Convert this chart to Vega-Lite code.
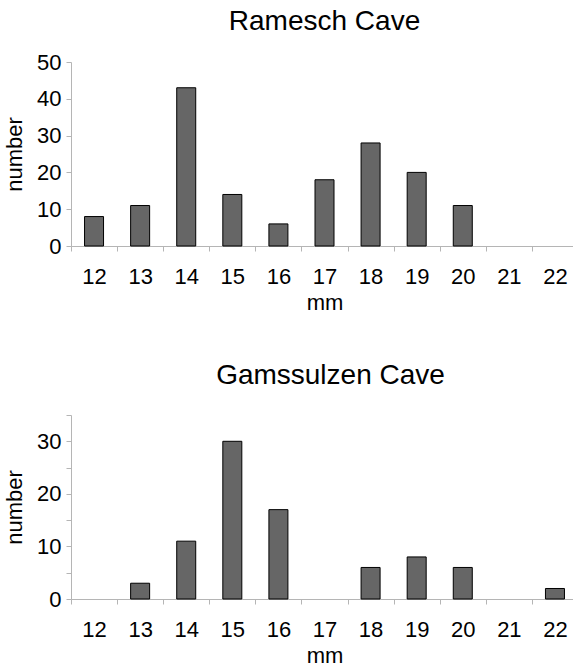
{
  "$schema": "https://vega.github.io/schema/vega-lite/v6.json",
  "padding": {"left": 3, "top": 8, "right": 0, "bottom": 0},
  "background": "white",
  "config": {
    "font": "Liberation Sans",
    "view": {"stroke": null},
    "title": {"fontSize": 28, "fontWeight": "normal", "color": "#000000", "anchor": "middle", "offset": 15, "font": "Liberation Sans"},
    "axis": {
      "labelFont": "Liberation Sans", "titleFont": "Liberation Sans",
      "labelFontSize": 22, "titleFontSize": 22, "titleFontWeight": "normal",
      "labelColor": "#000000", "titleColor": "#000000",
      "domainColor": "#b5b5b5", "tickColor": "#b5b5b5", "tickSize": 5, "grid": false
    }
  },
  "data": {"values": [
    {"cave": "Ramesch", "mm": 12, "n": 8},
    {"cave": "Ramesch", "mm": 13, "n": 11},
    {"cave": "Ramesch", "mm": 14, "n": 43},
    {"cave": "Ramesch", "mm": 15, "n": 14},
    {"cave": "Ramesch", "mm": 16, "n": 6},
    {"cave": "Ramesch", "mm": 17, "n": 18},
    {"cave": "Ramesch", "mm": 18, "n": 28},
    {"cave": "Ramesch", "mm": 19, "n": 20},
    {"cave": "Ramesch", "mm": 20, "n": 11},
    {"cave": "Ramesch", "mm": 21, "n": 0},
    {"cave": "Ramesch", "mm": 22, "n": 0},
    {"cave": "Gamssulzen", "mm": 12, "n": 0},
    {"cave": "Gamssulzen", "mm": 13, "n": 3},
    {"cave": "Gamssulzen", "mm": 14, "n": 11},
    {"cave": "Gamssulzen", "mm": 15, "n": 30},
    {"cave": "Gamssulzen", "mm": 16, "n": 17},
    {"cave": "Gamssulzen", "mm": 17, "n": 0},
    {"cave": "Gamssulzen", "mm": 18, "n": 6},
    {"cave": "Gamssulzen", "mm": 19, "n": 8},
    {"cave": "Gamssulzen", "mm": 20, "n": 6},
    {"cave": "Gamssulzen", "mm": 21, "n": 0},
    {"cave": "Gamssulzen", "mm": 22, "n": 2}
  ]},
  "spacing": 48,
  "vconcat": [
    {
      "title": {"text": "Ramesch Cave"},
      "width": 507, "height": 184,
      "transform": [{"filter": "datum.cave === 'Ramesch'"}],
      "mark": {"type": "bar", "width": 19, "fill": "#666666", "stroke": "#000000", "strokeWidth": 1},
      "encoding": {
        "x": {"field": "mm", "type": "ordinal",
          "scale": {"domain": [12, 13, 14, 15, 16, 17, 18, 19, 20, 21, 22], "paddingInner": 0, "paddingOuter": 0},
          "axis": {"title": "mm", "labelAngle": 0, "tickBand": "extent", "labelPadding": 15, "labelDx": 8, "titlePadding": 5}},
        "y": {"field": "n", "type": "quantitative",
          "scale": {"domain": [0, 50], "nice": false},
          "axis": {"title": "number", "values": [0, 10, 20, 30, 40, 50], "labelPadding": 5, "titlePadding": 10}},
        "strokeOpacity": {"condition": {"test": "datum.n > 0", "value": 1}, "value": 0}
      }
    },
    {
      "title": {"text": "Gamssulzen Cave", "dx": 6, "offset": 25},
      "width": 507, "height": 184,
      "transform": [{"filter": "datum.cave === 'Gamssulzen'"}],
      "mark": {"type": "bar", "width": 19, "fill": "#666666", "stroke": "#000000", "strokeWidth": 1},
      "encoding": {
        "x": {"field": "mm", "type": "ordinal",
          "scale": {"domain": [12, 13, 14, 15, 16, 17, 18, 19, 20, 21, 22], "paddingInner": 0, "paddingOuter": 0},
          "axis": {"title": "mm", "labelAngle": 0, "tickBand": "extent", "labelPadding": 15, "labelDx": 8, "titlePadding": 5}},
        "y": {"field": "n", "type": "quantitative",
          "scale": {"domain": [0, 35], "nice": false},
          "axis": {"title": "number", "values": [0, 5, 10, 15, 20, 25, 30, 35], "labelExpr": "datum.value % 10 === 0 ? datum.label : ''", "labelPadding": 5, "titlePadding": 10}},
        "strokeOpacity": {"condition": {"test": "datum.n > 0", "value": 1}, "value": 0}
      }
    }
  ]
}
